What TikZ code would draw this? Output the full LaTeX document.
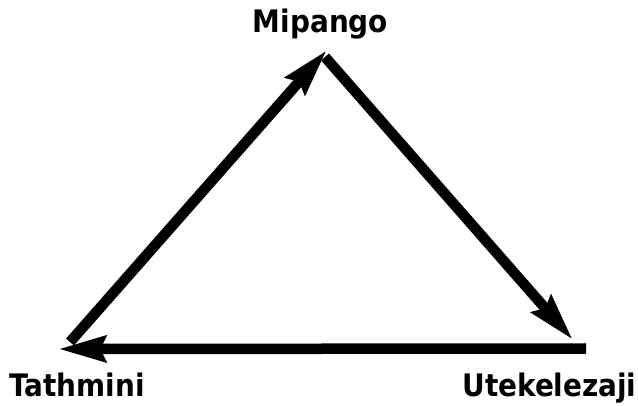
\documentclass[tikz,border=0pt]{standalone}
\usepackage{fontspec}
\setmainfont{DejaVu Sans Condensed}
\usetikzlibrary{arrows.meta}

\begin{document}
\begin{tikzpicture} [
        x=1pt, y=-1pt,
        stage/.style={font=\bfseries\fontsize{31}{36}\selectfont, inner sep=0pt, anchor=base},
        cycle/.style={line width=10.5pt, -{Stealth[length=47pt, width=25pt, inset=5pt]}}
    ]
    \useasboundingbox (0,0) rectangle (638,406);

    \node[stage] (plan)    at (320.5,33) {Mipango};
    \node[stage] (eval)    at (77,397)   {Tathmini};
    \node[stage] (act)     at (549.5,396) {Utekelezaji};

    % corners of the cycle
    \coordinate (planin)  at (327,50);
    \coordinate (planout) at (325,57);
    \coordinate (actin)   at (573,340);
    \coordinate (actout)  at (586,348.5);
    \coordinate (evalin)  at (58,349);
    \coordinate (evalout) at (70,342);

    \draw[cycle] (evalout) -- (planin);
    \draw[cycle] (planout) -- (actin);
    \draw[cycle] (actout)  -- (evalin);
\end{tikzpicture}
\end{document}
